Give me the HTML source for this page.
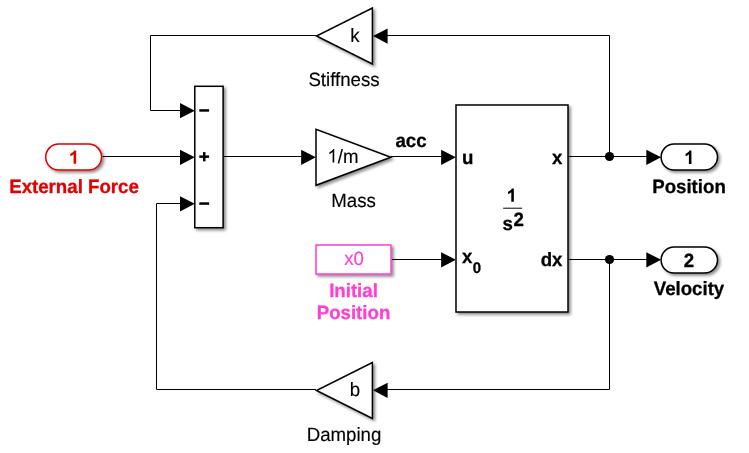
<!DOCTYPE html>
<html>
<head>
<meta charset="utf-8">
<style>
html,body{margin:0;padding:0;background:#fff;}
body{width:749px;height:453px;overflow:hidden;}
svg{display:block;position:absolute;left:0;top:0;}
text{font-family:"Liberation Sans",sans-serif;font-size:18.67px;text-rendering:geometricPrecision;}
.b{font-weight:bold;stroke-width:0.3px;}
text{stroke-width:0.15px;}
</style>
</head>
<body>
<svg width="749" height="453" viewBox="0 0 749 453">
<defs>
<filter id="sh" x="-20%" y="-20%" width="150%" height="150%">
<feDropShadow dx="2" dy="2" stdDeviation="1.5" flood-color="#000" flood-opacity="0.45"/>
</filter>
</defs>
<rect width="749" height="453" fill="#fff"/>
<!-- signal lines -->
<g fill="none" stroke="#000" stroke-width="1">
<path d="M102.5 156.5H182"/>
<path d="M224 156.5H303"/>
<path d="M391 156.5H443"/>
<path d="M391.5 259.5H443"/>
<path d="M568 156.5H648"/>
<path d="M568 259.5H648"/>
<path d="M609.5 156.5V35.5H386"/>
<path d="M316 35.5H150.5V110.5H182"/>
<path d="M609.5 259.5V389.5H386"/>
<path d="M316 389.5H156.5V203.5H182"/>
</g>
<!-- arrowheads and branch dots -->
<g fill="#000">
<path d="M194.8 157.35L180.00 149.70V165.00Z"/>
<path d="M194.8 110.65L180.00 103.00V118.30Z"/>
<path d="M194.8 203.85L180.00 196.20V211.50Z"/>
<path d="M315.9 157.35L301.10 149.70V165.00Z"/>
<path d="M455.9 157.35L441.10 149.70V165.00Z"/>
<path d="M455.9 259.85L441.10 252.20V267.50Z"/>
<path d="M661.1 157.35L646.30 149.70V165.00Z"/>
<path d="M661.1 259.85L646.30 252.20V267.50Z"/>
<path d="M373.0 36.05L387.60 28.40V43.70Z"/>
<path d="M373.0 390.3L387.60 382.65V397.95Z"/>
<circle cx="609.5" cy="156.5" r="4.6"/>
<circle cx="609.5" cy="259.5" r="4.6"/>
</g>
<!-- blocks -->
<g fill="#fff" stroke="#000" stroke-width="1.5" filter="url(#sh)">
<rect x="194.8" y="86.3" width="28.3" height="141.4"/>
<path d="M316 129.3V185.3L390.8 157.3Z"/>
<path d="M372.4 8V64L316.5 36Z"/>
<path d="M372.4 362.5V418.5L316.5 390.5Z"/>
<rect x="456" y="105" width="112" height="207"/>
<rect x="661.1" y="144.1" width="56.4" height="25.9" rx="12.95"/>
<rect x="661.1" y="247.1" width="56.4" height="25.9" rx="12.95"/>
</g>
<g fill="#fff" stroke="#e10000" stroke-width="1.5" filter="url(#sh)">
<rect x="45.7" y="144.1" width="55.9" height="25.9" rx="12.95"/>
</g>
<g fill="#fff" stroke="#ff3fd2" stroke-width="1.5" filter="url(#sh)">
<rect x="316" y="245" width="75" height="29"/>
</g>
<!-- labels -->
<g opacity="0.999">
<g fill="#000" stroke="#000" stroke-width="0">
<text transform="translate(355 41.5) scale(1 1.03)" text-anchor="middle">k</text>
<text transform="translate(344 85.5) scale(1 1.03)" text-anchor="middle">Stiffness</text>
<path transform="translate(327.3 162.5) scale(0.009116 -0.009116)" d="M763 0H583V1147Q518 1085 412.5 1023Q307 961 223 930V1104Q374 1175 487 1276Q600 1377 647 1472H763Z"/>
<text transform="translate(337.7 162.5) scale(1 1.03)">/m</text>
<text transform="translate(353.5 206.5) scale(1 1.03)" text-anchor="middle">Mass</text>
<text transform="translate(355 396) scale(1 1.03)" text-anchor="middle">b</text>
<text transform="translate(344 441) scale(1 1.03)" text-anchor="middle">Damping</text>
<text transform="translate(411 146.8) scale(1 1.03)" text-anchor="middle" class="b">acc</text>
<text transform="translate(462 163.7) scale(1 1.03)" class="b">u</text>
<text transform="translate(562.5 163.7) scale(1 1.03)" text-anchor="end" class="b">x</text>
<text transform="translate(462 262.5) scale(1 1.03)" class="b">x</text>
<text transform="translate(472.8 272.7) scale(1 1.03)" class="b" style="font-size:15px">0</text>
<text transform="translate(562.5 266) scale(1 1.03)" text-anchor="end" class="b">dx</text>
<path transform="translate(506.5 201.8) scale(0.009116 -0.009116)" d="M806 0H525V1059Q371 915 162 846V1101Q272 1137 401 1237.5Q530 1338 578 1472H806Z"/>
<rect x="503.2" y="207.7" width="19" height="1"/>
<text transform="translate(502.5 229.9) scale(1 1.03)" class="b">s</text>
<text transform="translate(513.5 225.6) scale(1 1.03)" class="b">2</text>
<path transform="translate(684.1 163.9) scale(0.009116 -0.009116)" d="M806 0H525V1059Q371 915 162 846V1101Q272 1137 401 1237.5Q530 1338 578 1472H806Z"/>
<text transform="translate(689 266.7) scale(1 1.03)" text-anchor="middle" class="b">2</text>
<text transform="translate(689 193) scale(1 1.03)" text-anchor="middle" class="b">Position</text>
<text transform="translate(689 295.0) scale(1 1.03)" text-anchor="middle" class="b">Velocity</text>
<rect x="199.3" y="109.2" width="9.8" height="2.5"/>
<rect x="199.3" y="155.4" width="9.8" height="2.5"/>
<rect x="203" y="152.1" width="2.5" height="9.2"/>
<rect x="199.3" y="202.3" width="9.8" height="2.5"/>
</g>
<g fill="#e10000" stroke="#e10000" stroke-width="0">
<path transform="translate(68.8 163.8) scale(0.009116 -0.009116)" d="M806 0H525V1059Q371 915 162 846V1101Q272 1137 401 1237.5Q530 1338 578 1472H806Z"/>
<text transform="translate(74 193) scale(1 1.03)" text-anchor="middle" class="b">External Force</text>
</g>
<g fill="#ff3fd2" stroke="#ff3fd2" stroke-width="0">
<text transform="translate(354 264.5) scale(1 1.03)" text-anchor="middle">x0</text>
<text transform="translate(353.5 296.6) scale(1 1.03)" text-anchor="middle" class="b">Initial</text>
<text transform="translate(353.5 318.5) scale(1 1.03)" text-anchor="middle" class="b">Position</text>
</g>
</g>
</svg>
</body>
</html>
